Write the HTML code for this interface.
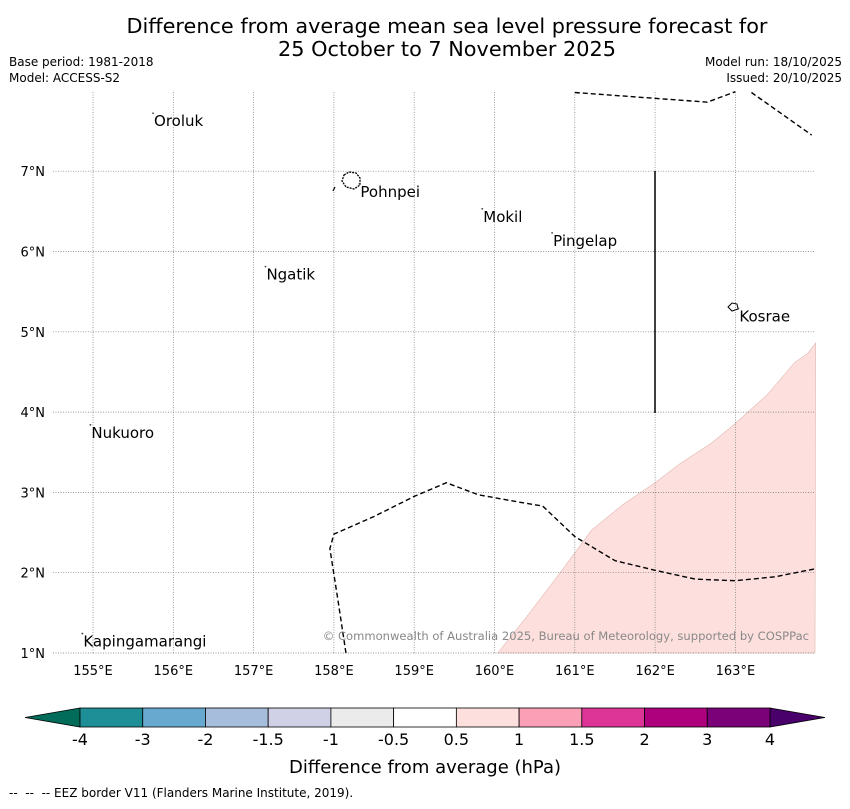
<!DOCTYPE html>
<html><head><meta charset="utf-8"><style>
body{margin:0;background:#fff;font-family:"Liberation Sans","DejaVu Sans",sans-serif}
svg text{font-family:"DejaVu Sans","Liberation Sans",sans-serif;white-space:pre}
</style></head><body>
<svg id="c" width="850" height="804" viewBox="0 0 850 804" xmlns="http://www.w3.org/2000/svg">
<text x="447" y="33" font-size="20.8" text-anchor="middle">Difference from average mean sea level pressure forecast for</text>
<text x="447" y="56" font-size="20.8" text-anchor="middle">25 October to 7 November 2025</text>
<text x="9" y="66" font-size="12">Base period: 1981-2018</text>
<text x="9" y="82" font-size="12">Model: ACCESS-S2</text>
<text x="842" y="66" font-size="12" text-anchor="end">Model run: 18/10/2025</text>
<text x="842" y="82" font-size="12" text-anchor="end">Issued: 20/10/2025</text>
<g id="map"></g>
<g id="cb"></g>
<text x="425" y="773" font-size="18" text-anchor="middle">Difference from average (hPa)</text>
<text x="9" y="797" font-size="12">--  --  -- EEZ border V11 (Flanders Marine Institute, 2019).</text>
</svg>
<script>
const lonTicks=[155,156,157,158,159,160,161,162,163];
const latTicks=[1,2,3,4,5,6,7];
const anomalyArea=[[160.04,1.0],[160.4,1.45],[160.75,1.91],[161.21,2.53],[161.6,2.85],[162,3.12],[162.3,3.35],[162.71,3.62],[163,3.86],[163.4,4.22],[163.74,4.62],[163.9,4.73],[164,4.86]];
const eezTop1=[[161,7.98],[162.65,7.86],[163,7.99]];
const eezTop2=[[163.2,7.98],[163.95,7.45]];
const eezBottom=[[158.15,1],[158.05,1.66],[157.95,2.3],[158.0,2.48],[158.5,2.7],[159.0,2.95],[159.4,3.12],[159.8,2.97],[160.3,2.88],[160.6,2.83],[161.0,2.45],[161.5,2.15],[162,2.03],[162.5,1.92],[163,1.9],[163.5,1.95],[164,2.05]];
const places=["Oroluk","Pohnpei","Mokil","Pingelap","Ngatik","Kosrae","Nukuoro","Kapingamarangi"];
const placeLon=[155.76,158.33,159.86,160.73,157.16,163.05,154.98,154.88];
const placeLat=[7.56,6.68,6.37,6.07,5.65,5.13,3.68,1.08];
const cbLevels=["-4","-3","-2","-1.5","-1","-0.5","0.5","1","1.5","2","3","4"];
const cbColors=["#1f8f97","#67a9cf","#a6bddb","#d0d1e6","#ebebeb","#ffffff","#fde0dd","#fa9fb5","#dd3497","#ae017e","#7a0177"];
const ns="http://www.w3.org/2000/svg";
const X=l=>93+(l-155)*80.3, Y=l=>653-(l-1)*80.3;
function mk(p,t,a){const e=document.createElementNS(ns,t);for(const k in a)e.setAttribute(k,a[k]);p.appendChild(e);return e;}
const map=document.getElementById('map');
const L=53,R=815,T=92,B=653;
let d="M"+anomalyArea.map(p=>X(p[0])+","+Y(p[1])).join(" L")+" L"+R+","+B+" Z";
let a=mk(map,'path',{d:d,fill:"#fde0dd",stroke:"#e0b8b4","stroke-width":0.6});


lonTicks.forEach(l=>{let g=mk(map,'line',{x1:X(l),x2:X(l),y1:T,y2:B,stroke:"#777","stroke-width":0.7,"stroke-dasharray":"1,1.5"});

let t=mk(map,'text',{x:X(l),y:675,"font-size":13,"text-anchor":"middle"});t.textContent=l+"°E";
});
latTicks.forEach(l=>{let g=mk(map,'line',{x1:L,x2:R,y1:Y(l),y2:Y(l),stroke:"#777","stroke-width":0.7,"stroke-dasharray":"1,1.5"});

let t=mk(map,'text',{x:45,y:Y(l)+5,"font-size":13,"text-anchor":"end"});t.textContent=l+"°N";
});
[eezTop1,eezTop2,eezBottom].forEach(s=>{let p=mk(map,'polyline',{points:s.map(q=>X(q[0])+","+Y(q[1])).join(" "),fill:"none",stroke:"#000","stroke-width":1.4,"stroke-dasharray":"5,3"});
});
let v=mk(map,'line',{x1:655,x2:655,y1:171,y2:413,stroke:"#000","stroke-width":1.5});

mk(map,'line',{x1:333,y1:191,x2:335,y2:187,stroke:"#000","stroke-width":1.2});
let pi=mk(map,'path',{d:"M344,175 L349,172 L356,173 L360,178 L360,185 L354,189 L346,187 L342,181 Z",fill:"none",stroke:"#000","stroke-width":1.3,"stroke-dasharray":"2,1"});

let ko=mk(map,'path',{d:"M728,307 L732,303 L737,304 L738,309 L732,311 Z",fill:"none",stroke:"#000","stroke-width":1});

places.forEach((n,i)=>{let x=X(placeLon[i]),y=Y(placeLat[i]);
let dot=mk(map,'circle',{cx:x-1,cy:y-13,r:0.9,fill:"#444"});
let t=mk(map,'text',{x:x,y:y,"font-size":15});t.textContent=n;
});
let cp=mk(map,'text',{x:809,y:640,"font-size":11.55,fill:"#888","text-anchor":"end"});cp.textContent="© Commonwealth of Australia 2025, Bureau of Meteorology, supported by COSPPac";

const cb=document.getElementById('cb');const c0=80,c1=770,cy0=708,cy1=727,n=cbLevels.length-1,w=(c1-c0)/n;
let lt=mk(cb,'polygon',{points:`${c0},${cy0} 25,${(cy0+cy1)/2} ${c0},${cy1}`,fill:"#016c59",stroke:"#000","stroke-width":0.8});

let rt=mk(cb,'polygon',{points:`${c1},${cy0} 825,${(cy0+cy1)/2} ${c1},${cy1}`,fill:"#49006a",stroke:"#000","stroke-width":0.8});

cbColors.forEach((c,i)=>{let r=mk(cb,'rect',{x:c0+i*w,y:cy0,width:w,height:cy1-cy0,fill:c,stroke:"#000","stroke-width":0.8});
});
cbLevels.forEach((s,i)=>{let t=mk(cb,'text',{x:c0+i*w,y:745,"font-size":16,"text-anchor":"middle"});t.textContent=s;
});
</script>
</body></html>
